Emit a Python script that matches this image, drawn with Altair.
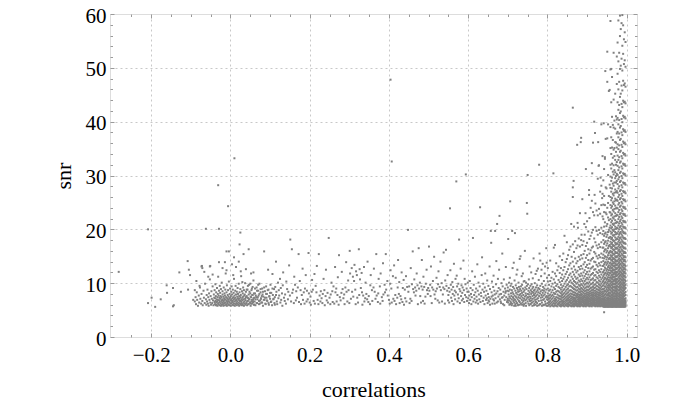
import altair as alt
import pandas as pd

# ---------------- data ----------------
# every point is (correlation x 1000, snr x 10)
far_left = [(-282,121),(-208,63),(-199,73),(-190,56),(-176,70),(-161,96),(-160,82),(-145,91),(-145,57),(-143,59),
            (-129,120),(-125,84),(-108,141),(-105,125),(-102,115),(-107,88),(-208,200),(-94,69),(-90,87),(-73,131),
            (-71,128),(-62,201),(-52,131),(-29,139),(-29,201),(-6,243),(-10,159),(-31,282),(10,332)]

near_zero = [(-90,66),(-88,74),(-87,61),(-85,83),(-84,69),(-82,58),(-80,77),(-79,64),(-77,92),(-76,71),(-74,62),(-73,80),
             (-71,67),(-70,59),(-68,86),(-67,73),(-65,63),(-64,99),(-62,70),(-61,60),(-60,78),(-59,66),(-58,88),(-57,62),
             (-56,74),(-55,58),(-54,81),(-53,69),(-52,107),(-51,64),(-50,76),(-49,60),(-48,85),(-47,71),(-46,63),(-45,94),
             (-44,68),(-43,59),(-42,79),(-41,73),(-40,65),(-40,87),(-39,61),(-39,72),(-38,67),(-38,98),(-37,59),(-37,76),
             (-36,64),(-36,83),(-35,70),(-35,60),(-34,91),(-34,66),(-33,74),(-33,58),(-32,80),(-32,69),(-31,63),(-31,112),
             (-30,77),(-30,61),(-29,86),(-29,68),(-28,73),(-28,59),(-27,95),(-27,65),(-26,71),(-26,82),(-25,62),(-25,76),
             (-24,58),(-24,89),(-23,67),(-23,74),(-22,60),(-22,101),(-21,70),(-21,64),(-20,79),(-20,85),(-19,61),(-19,68),
             (-18,75),(-18,58),(-17,92),(-17,66),(-16,72),(-16,63),(-15,81),(-15,69),(-14,59),(-14,77),(-13,88),(-13,64),
             (-12,70),(-12,118),(-11,61),(-11,74),(-10,67),(-10,83),(-9,58),(-9,96),(-8,72),(-8,65),(-7,78),(-7,62),(-6,69),
             (-6,87),(-5,60),(-5,75),(-4,66),(-4,103),(-3,71),(-3,59),(-2,80),(-2,64),(-1,73),(-1,90),(0,62),(0,68),(1,76),
             (1,58),(2,84),(2,70),(3,63),(3,94),(4,67),(4,79),(5,60),(5,72),(6,88),(6,65),(7,74),(7,59),(8,82),(8,69),(9,62),
             (9,108),(10,71),(10,77),(11,58),(11,66),(12,86),(12,73),(13,61),(13,95),(14,68),(14,79),(15,63),(15,70),(16,84),
             (16,59),(17,75),(17,66),(18,91),(18,62),(19,72),(19,80),(20,60),(20,69),(21,99),(21,64),(22,76),(22,58),(23,83),
             (23,71),(24,62),(24,67),(25,89),(25,74),(26,60),(26,78),(27,66),(27,113),(28,70),(28,63),(29,85),(29,59),(30,73),
             (30,68),(31,81),(31,61),(32,92),(32,75),(33,64),(33,70),(34,58),(34,87),(35,77),(35,66),(36,62),(36,79),(37,71),
             (37,100),(38,60),(38,68),(39,84),(39,74),(40,63),(41,76),(42,59),(43,88),(44,67),(45,72),(46,61),(47,97),(48,70),
             (49,64),(50,81),(51,58),(52,74),(53,66),(54,90),(55,62),(56,78),(57,69),(58,105),(59,60),(60,73),
             (25,194),(23,172),(-4,159),(33,154),(46,163),(-72,132),(-51,132),(14,130),(7,115),(21,140),(26,122),(4,135),
             (-10,124),(-56,112),(58,120),(-78,95),(-66,121),(-20,128),(39,126),(52,118),(-45,116),(-86,104),(30,102),
             (-14,139),(9,148)]

zero_right = [(41,88),(42,66),(43,73),(44,95),(45,61),(46,79),(47,70),(48,84),(49,64),(50,99),(51,75),(52,62),(53,87),
              (54,69),(55,78),(56,93),(57,65),(58,72),(59,81),(60,60),(62,90),(63,70),(64,77),(66,63),(67,86),(69,74),
              (70,97),(72,67),(73,80),(74,62),(76,89),(77,71),(79,76),(80,64),(82,84),(84,69),(85,92),(87,73),(89,61),
              (90,80),(92,68),(94,87),(96,63),(98,75),(100,82),(103,66),(106,90),(109,71),(112,60),(115,78)]

mid_band = [(61,66),(62,81),(63,59),(65,74),(66,92),(67,63),(68,70),(70,86),(71,77),(72,61),(73,99),(75,68),(76,83),(77,72),
            (78,64),(80,90),(81,79),(82,58),(83,75),(85,159),(86,69),(87,85),(88,62),(90,94),(91,73),(92,80),(93,67),(95,125),
            (96,88),(97,60),(98,76),(100,71),(101,97),(102,65),(103,82),(105,59),(106,117),(107,78),(108,70),(110,89),(111,63),
            (112,74),(113,93),(115,140),(116,84),(117,66),(118,61),(120,101),(121,72),(122,87),(123,77),(125,108),(126,64),
            (127,91),(128,69),(130,81),(131,58),(132,96),(133,120),(135,73),(137,67),(138,79),(140,62),(141,103),(143,89),
            (145,70),(146,84),(148,133),(150,77),(151,181),(153,66),(155,163),(156,82),(158,88),(160,63),(161,112),(163,97),
            (165,68),(166,85),(168,73),(170,92),(172,154),(173,65),(175,104),(177,87),(178,61),(180,78),(182,127),(183,69),
            (185,83),(187,62),(188,90),(190,115),(192,66),(193,86),(195,70),(197,156),(198,81),(200,64),(202,75),(203,60),
            (205,84),(206,106),(208,88),(210,67),(212,117),(213,62),(215,95),(217,83),(218,132),(220,69),(222,61),(223,154),
            (225,77),(227,66),(228,85),(230,72),(232,63),(233,80),(235,108),(237,87),(238,59),(240,76),(241,125),(243,68),
            (245,82),(246,64),(248,184),(250,73),(252,61),(253,79),(255,101),(257,85),(258,65),(260,94),(262,62),(264,130),
            (265,83),(267,90),(268,66),(270,78),(271,111),(273,60),(274,152),(276,74),(278,68),(280,82),(281,121),(283,89),
            (285,72),(287,79),(288,61),(290,92),(292,139),(293,84),(295,66),(297,105),(298,87),(300,63),(301,160),(302,118),
            (304,71),(306,128),(307,84),(309,112),(310,75),(312,104),(313,134),(315,88),(316,61),(317,122),(319,115),(320,73),
            (322,64),(324,163),(325,78),(326,126),(327,107),(329,91),(331,119),(332,83),(333,60),(335,77),(337,130),(338,66),
            (340,72),(341,101),(343,80),(345,70),(346,140),(348,65),(349,76),(352,61),(353,96),(354,115),(357,87),(358,67),
            (361,92),(362,127),(364,84),(366,71),(368,154),(369,77),(372,65),(373,81),(374,108),(377,94),(378,62),(379,118),
            (382,74),(384,67),(385,137),(386,79),(389,97),(390,83),(392,154),(393,88),(396,104),(397,77),(400,69),(402,62),
            (403,99),(404,124),(406,90),(407,64),(410,113),(411,71),(413,133),(414,67),(416,78),(417,110),(418,61),(421,73),
            (422,92),(423,143),(425,80),(426,102),(427,63),(429,76),(431,70),(432,120),(434,65),(435,91),(437,106),(438,60),
            (440,88),(441,72),(443,113),(444,66),(446,93),(448,199),(449,84),(451,94),(452,63),(454,71),(455,128),(457,67),
            (458,98),(460,159),(461,89),(463,83),(464,107),(466,92),(467,77),(469,86),(470,118),(472,96),(473,61),(475,165),
            (476,90),(478,101),(479,76),(481,64),(482,94),(483,143),(485,88),(486,67),(487,112),(489,93),(490,62),(492,75),
            (493,99),(495,125),(496,87),(498,80),(499,91),(501,168),(502,86),(504,97),(505,76),(506,131),(508,63),(509,92),
            (511,104),(512,88),(514,149),(515,79),(517,71),(518,85),(520,110),(521,90),(523,68),(524,98),(525,122),(527,64),
            (528,93),(530,140),(531,87),(533,100),(534,66),(536,79),(537,92),(538,157),(540,89),(541,62),(542,105),(544,162),
            (545,95),(547,86),(548,115),(549,68),(550,78),(551,91),(552,64),(553,84),(554,239),(555,124),(556,97),(557,73),
            (558,88),(559,67),(560,102),(561,80),(562,93),(563,61),(564,136),(565,77),(566,86),(567,70),(568,108),(569,83),
            (570,289),(571,114),(572,94),(573,66),(574,79),(575,99),(576,72),(577,181),(578,89),(579,63),(580,85),(581,127),
            (582,76),(583,96),(584,68),(585,82),(586,92),(587,71),(588,142),(589,87),(590,65),(591,108),(592,78),(593,98),
            (594,302),(595,74),(596,90),(597,67),(598,84),(599,101)]

rising = [(600,72),(601,84),(602,63),(603,77),(604,104),(605,69),(606,91),(607,80),(608,61),(609,74),(610,122),(611,87),
          (612,184),(613,66),(614,97),(615,78),(616,71),(617,112),(618,83),(619,64),(620,90),(621,75),(622,68),(623,135),
          (624,86),(625,62),(626,101),(627,79),(628,70),(629,94),(630,241),(631,65),(632,82),(633,76),(634,115),(635,148),
          (636,88),(637,67),(638,99),(639,73),(640,84),(641,61),(642,92),(643,118),(644,77),(645,69),(646,86),(647,72),
          (648,105),(649,63),(650,80),(651,95),(652,74),(653,66),(654,131),(655,89),(656,71),(657,197),(658,175),(659,83),
          (660,103),(661,62),(662,77),(663,93),(664,114),(665,68),(666,86),(667,79),(668,197),(669,72),(670,98),(671,141),
          (672,64),(673,210),(674,85),(675,108),(676,75),(677,91),(678,125),(679,225),(680,70),(681,88),(682,66),(683,80),
          (684,100),(685,73),(686,155),(687,94),(688,61),(689,84),(690,107),(691,77),(692,69),(693,90),(694,82),(695,130),
          (696,74),(697,97),(698,65),(699,86),(651,68),(655,60),(659,75),(663,70),(667,62),(671,81),(675,66),(679,79),
          (683,63),(687,74),(691,59),(695,85),(699,68),
          (700,71),(700,92),(701,182),(701,64),(702,79),(702,85),(703,68),(703,101),(704,75),(704,60),(705,88),(705,110),
          (706,252),(706,72),(707,66),(707,95),(708,81),(708,63),(709,99),(709,76),(710,70),(710,87),(711,197),(711,62),
          (712,128),(712,83),(713,74),(713,93),(714,67),(714,80),(715,138),(715,71),(716,90),(716,64),(717,77),(717,105),
          (718,193),(718,69),(719,86),(719,61),(720,96),(720,75),(721,82),(721,66),(722,116),(722,73),(723,91),(723,63),
          (724,125),(724,79),(725,70),(725,88),(726,84),(726,60),(727,101),(727,74),(728,67),(728,93),(729,78),(729,85),
          (730,145),(730,65),(731,89),(731,72),(732,150),(732,80),(733,94),(733,62),(734,76),(734,86),(735,113),(735,69),
          (736,82),(736,97),(737,73),(737,64),(738,118),(738,90),(739,78),(739,67),(740,84),(740,103),(741,71),(741,61),
          (742,104),(742,87),(743,160),(743,75),(744,92),(744,68),(745,81),(745,63),(746,101),(746,77),(747,89),(747,70),
          (748,249),(748,95),(749,229),(749,73),(750,301),(750,80),(750,66),(751,98),(751,74),(752,86),(752,62),(753,107),
          (753,79),(754,70),(754,91),(755,131),(755,83),(756,67),(756,75),(757,95),(757,61),(758,87),(758,72),(759,120),
          (759,80),(760,68),(760,98),(761,84),(761,64),(762,76),(762,90),(763,109),(763,71),(764,82),(764,93),(765,146),
          (765,66),(766,78),(766,86),(767,73),(767,62),(768,100),(768,88),(769,69),(769,81),(770,117),(770,75),(771,92),
          (771,65),(772,84),(772,77),(773,123),(773,70),(774,96),(774,63),(775,87),(775,79),(776,127),(776,72),(777,83),
          (777,91),(778,106),(778,67),(779,320),(779,76),(780,155),(780,89),(781,61),(781,81),(782,142),(782,95),(783,73),
          (783,85),(784,113),(784,68),(785,125),(785,78),(786,99),(786,64),(787,87),(787,74),(788,136),(788,82),(789,69),
          (789,93),(790,77),(790,60),(791,104),(791,86),(792,71),(792,90),(793,118),(793,79),(794,131),(794,66),(795,96),
          (795,83),(796,74),(796,62),(797,165),(797,88),(798,138),(798,76),(799,110),(799,70),
          (754,59),(762,58),(770,60),(778,59),(786,58),(794,60),(758,62),(766,59),(774,58),(782,61),(790,59),(798,58),
          (710,59),(720,58),(730,60),(740,58),(706,61),(716,58),(726,59),(736,60),(746,58)]

outliers = [(959,587),(951,530),(946,494),(961,498),(864,426),(918,400),(936,395),(942,397),(920,379),(875,357),
            (928,362),(945,334),(912,323),(864,278),(864,260),(905,273),(930,319),(404,478),(407,326),(815,304),
            (866,290),(884,362),(885,370),(897,312),(913,304),(915,361),(905,264),(919,264),(886,190),(877,203),
            (860,210),(893,210),(896,230),(938,258),(934,296),(929,318)]

# dense shoulder between 0.80 and 0.94: correlation x 1000 and the snr x 10 values found at it
shoulder_corr = [801, 804, 807, 810, 813, 816, 819, 822, 825, 828, 831, 834, 837, 840, 843, 846, 849, 852, 855, 858,
                 861, 864, 867, 870, 873, 876, 879, 882, 885, 888, 891, 894, 897, 900, 903, 906, 909, 912, 915, 918,
                 921, 924, 927, 930, 933, 936, 939]
shoulder_snr = [
    [58,63,69,74,81,90,103,128], [60,65,71,77,86,97,115], [57,62,67,73,79,88,104,142], [59,64,70,76,83,94,110],
    [58,61,66,72,78,87,99,121], [57,63,68,75,82,92,107,166], [59,62,67,71,80,89,101,118,171],
    [58,64,69,74,84,95,113,137], [57,61,66,73,79,86,98,124], [60,63,68,72,77,85,93,106,131],
    [58,62,65,71,76,83,91,102,119,150], [57,60,66,70,75,81,88,97,110,128], [59,63,67,73,78,84,92,104,116,143],
    [58,61,65,69,74,80,87,95,108,124,155], [57,62,66,71,76,82,89,99,112,130,188], [59,60,64,68,73,79,85,93,103,117,139],
    [58,62,67,70,75,81,88,96,106,121,145,176], [57,61,63,68,72,77,83,90,98,110,126,152],
    [59,60,65,69,74,79,86,94,102,115,133,162], [58,62,64,67,71,76,81,87,95,105,118,137,168],
    [57,59,63,68,72,75,80,86,93,101,112,127,149], [58,61,65,66,70,74,79,84,91,99,108,121,140,172],
    [57,60,62,67,71,73,78,83,89,96,104,116,131,158,205], [59,61,64,66,69,72,77,82,88,94,102,112,125,146,178],
    [58,60,63,65,68,73,76,80,86,92,99,108,120,137,165], [57,59,62,66,70,74,78,81,87,93,101,110,123,141,170,212],
    [58,61,64,67,69,72,75,79,84,90,97,105,116,130,149,183], [57,60,62,65,68,71,74,78,83,88,95,103,113,126,144,168,230],
    [59,61,63,66,70,73,77,80,85,91,98,107,118,132,152,180], [58,60,64,67,69,72,75,79,84,89,96,104,114,127,146,171,256],
    [57,59,62,65,68,71,74,77,82,87,93,100,109,120,135,154,178], [58,61,63,66,69,73,76,80,85,90,97,104,113,124,139,160,190],
    [57,60,62,64,67,70,73,77,81,86,92,99,107,117,130,147,169,204],
    [59,61,64,67,70,72,75,79,83,88,94,101,110,121,134,152,175,215],
    [58,60,63,65,68,71,74,78,82,87,93,99,107,116,128,143,163,196],
    [57,59,62,66,69,72,76,80,84,89,95,102,111,122,136,155,182,221],
    [58,61,63,65,67,70,73,77,81,85,91,98,106,115,127,142,161,188,240],
    [57,60,62,64,68,71,74,78,82,87,92,99,107,117,129,145,166,194,253],
    [59,61,63,66,69,72,76,79,83,88,94,101,109,119,131,147,168,199,232],
    [58,60,62,65,67,70,73,77,81,86,91,97,105,114,125,140,158,183,226],
    [57,59,61,64,68,71,75,78,82,86,92,98,106,115,126,139,155,176,204,248],
    [58,60,63,65,67,70,73,76,80,84,89,95,102,111,121,134,150,170,197,235],
    [57,59,62,64,66,69,72,75,79,83,88,94,101,109,119,131,146,165,190,226,294],
    [58,61,63,66,68,71,74,78,82,87,92,98,105,114,124,137,152,172,199,238],
    [57,59,62,64,67,70,73,77,81,85,90,96,103,111,121,133,148,167,193,229,270],
    [58,60,63,65,68,71,75,79,83,88,93,99,107,116,126,139,155,176,203,245,281],
    [57,59,61,64,66,69,72,76,80,84,89,95,102,110,120,132,147,166,191,224,266,336],
]

# dense column next to correlation 1
core_corr = [941, 943, 945, 947, 949, 951, 953, 955, 957, 959, 961, 963, 965, 967, 969, 971, 973, 975, 977, 979,
             981, 983, 985, 987, 989, 991, 993, 995, 997]
core_snr = [
    [57,59,63,66,70,75,81,88,96,104,113,121,132,141,153,166,180,197,219,246,291],
    [46,56,60,62,67,72,77,84,90,99,107,116,124,135,146,159,173,188,205,232,262,312],
    [57,58,61,65,69,73,79,86,94,101,110,118,129,138,150,162,176,192,213,245,331],
    [56,59,62,64,68,74,80,85,93,102,109,119,127,139,149,163,178,194,231,278,368],
    [57,58,60,64,67,71,77,83,89,97,106,114,123,134,144,157,170,186,206,228,276],
    [56,58,61,63,68,72,78,85,92,100,108,117,126,137,148,160,174,190,210,240,369,474],
    [57,59,62,65,69,74,80,87,95,103,111,120,130,140,152,165,179,195,222,249,301,395],
    [56,58,60,64,67,72,78,83,91,98,106,115,124,133,145,156,169,184,199,217,262,457],
    [57,59,61,63,68,71,76,82,88,95,103,110,119,128,137,147,158,171,185,203,232,283,459],
    [56,58,61,64,67,71,75,81,87,93,99,105,111,118,124,131,138,145,152,160,168,177,186,196,207,219,231,245,260,277,298,320,351,390,497],
    [57,59,62,65,69,73,78,84,90,96,102,108,114,121,128,134,142,149,157,165,173,182,192,202,213,226,240,254,270,290,313,340,371,436],
    [56,57,60,63,66,70,74,79,85,91,97,103,110,116,123,129,136,143,151,158,167,175,184,194,204,216,228,243,258,276,296,322,352,409,483],
    [57,58,61,64,68,72,77,82,88,94,100,107,113,120,126,133,140,147,155,163,171,180,189,199,210,222,236,250,266,285,307,333,366,394],
    [56,59,60,63,67,70,75,80,86,92,98,104,111,117,124,131,137,145,153,161,169,178,188,197,208,220,233,247,263,281,302,319,348,389,441,528],
    [57,58,62,65,68,72,76,82,87,93,99,106,112,119,125,132,139,146,154,162,170,179,190,200,211,224,238,252,268,287,310,336,351,402],
    [56,58,60,63,66,71,75,80,85,91,97,103,109,116,122,129,136,143,150,158,166,175,185,195,205,217,230,244,257,274,295,306,329,362,387,452],
    [57,59,61,64,68,71,76,81,87,93,100,106,113,119,126,133,140,148,156,164,172,181,191,201,212,225,239,254,269,287,299,320,344,361,410],
    [56,57,60,63,66,70,74,79,84,90,96,102,108,115,121,128,135,142,150,157,166,174,183,193,203,214,227,240,255,271,290,303,325,352,378,404,470,521],
    [57,58,61,64,67,72,77,82,88,94,101,107,114,120,127,134,141,149,156,164,173,182,192,202,213,226,239,253,268,284,301,318,337,358,381,407,436,489,547],
    [56,59,61,63,68,71,75,80,86,92,98,104,110,117,123,130,137,144,152,160,168,177,186,196,207,219,232,246,260,276,293,310,329,349,371,395,422,460,512,588],
    [57,58,60,64,67,70,76,81,87,93,99,105,112,118,125,132,139,146,154,162,171,180,190,200,211,223,236,249,264,280,297,315,334,356,378,403,431,474,528],
    [56,58,62,65,69,73,78,83,89,95,101,108,114,121,128,135,142,150,158,166,175,184,193,204,215,228,242,256,271,288,305,324,344,366,389,416,446,498,559,597],
    [57,59,60,63,66,70,74,79,85,91,97,103,109,116,122,129,136,143,151,159,167,176,185,195,206,218,230,244,258,273,290,307,326,346,368,392,419,452,504,572],
    [56,57,61,64,68,72,77,82,88,94,100,106,113,119,126,133,140,147,155,163,172,181,191,201,212,224,237,251,266,282,299,317,336,357,380,405,433,467,517,583],
    [57,58,62,65,67,71,75,80,86,92,98,105,111,117,124,131,138,145,153,161,169,178,188,198,209,221,234,248,262,278,295,313,332,353,375,399,427,458,495,541,598],
    [56,59,60,63,69,73,78,84,90,96,102,108,115,122,129,136,144,151,159,167,176,185,195,205,216,229,242,256,271,287,304,322,342,363,386,411,439,476,526,579],
    [57,58,61,64,66,70,76,81,87,93,99,106,112,119,126,133,141,148,156,165,174,183,193,203,214,227,240,254,269,285,302,320,339,360,383,408,436,468,507,553],
    [56,58,60,63,67,71,77,82,89,95,101,107,114,121,128,135,143,150,158,166,175,184,194,204,215,228,241,255,270,286,303,321,340,361,384,409,437,471,514,566],
    [57,59,62,65,68,72,78,84,91,97,104,111,118,125,132,140,148,156,164,173,182,192,202,213,225,238,252,267,283,300,318,337,358,381,406,434,465,502,548],
]

x_major = [-0.2, 0.0, 0.2, 0.4, 0.6, 0.8, 1.0]
x_minor = [-0.25, -0.15, -0.1, -0.05, 0.05, 0.1, 0.15, 0.25, 0.3, 0.35, 0.45, 0.5, 0.55,
           0.65, 0.7, 0.75, 0.85, 0.9, 0.95]
y_major = [0, 10, 20, 30, 40, 50, 60]
y_grid = [10, 20, 30, 40, 50]
y_minor = [2, 4, 6, 8, 12, 14, 16, 18, 22, 24, 26, 28, 32, 34, 36, 38, 42, 44, 46, 48, 52, 54, 56, 58]

# ---------------- build table ----------------
rows = []
for group in (far_left, near_zero, zero_right, mid_band, rising, outliers):
    for c, s in group:
        rows.append({"correlations": c / 1000, "snr": s / 10})
for corr_list, snr_lists in ((shoulder_corr, shoulder_snr), (core_corr, core_snr)):
    for c, col in zip(corr_list, snr_lists):
        for s in col:
            rows.append({"correlations": c / 1000, "snr": s / 10})
df = pd.DataFrame(rows)

W, H = 527, 323
FRAME = "#9a9a9a"
FONT = "Liberation Serif, Times New Roman, Times, serif"
xs = alt.Scale(domain=[-0.304, 1.026], nice=False, zero=False)
ys = alt.Scale(domain=[0, 60], nice=False, zero=False)

base = alt.Chart(df)
empty = base.transform_filter("datum.snr > 1000")


def tick_axis(values, orient, offset, size):
    return alt.Axis(values=values, orient=orient, offset=offset, tickSize=size, tickColor=FRAME,
                    tickWidth=1, labels=False, domain=False, grid=False, title="")


points = base.mark_square(size=4, color="#808080", opacity=1).encode(
    x=alt.X("correlations:Q", scale=xs,
            axis=alt.Axis(values=x_major, grid=True, gridColor="#c8c8c8", gridDash=[2, 3], gridWidth=1,
                          labels=False, ticks=False, domain=False, title="")),
    y=alt.Y("snr:Q", scale=ys,
            axis=alt.Axis(values=y_grid, grid=True, gridColor="#c8c8c8", gridDash=[2, 3], gridWidth=1,
                          labels=False, ticks=False, domain=False, title="")),
)

labels = empty.mark_point().encode(
    x=alt.X("correlations:Q", scale=xs,
            axis=alt.Axis(values=x_major, format=".1f", orient="bottom", ticks=False, domain=False, grid=False,
                          labelFont=FONT, labelFontSize=21, labelColor="black", labelPadding=7,
                          labelFlush=False, labelOverlap=False,
                          title="correlations", titleFont=FONT, titleFontSize=22, titleFontWeight="normal",
                          titleColor="black", titleY=59, titleBaseline="alphabetic")),
    y=alt.Y("snr:Q", scale=ys,
            axis=alt.Axis(values=y_major, format="d", orient="left", ticks=False, domain=False, grid=False,
                          labelFont=FONT, labelFontSize=21, labelColor="black", labelPadding=4, labelOffset=2,
                          labelFlush=False, labelOverlap=False,
                          title="snr", titleFont=FONT, titleFontSize=22, titleFontWeight="normal",
                          titleColor="black", titleX=-40, titleY=H / 2, titleAngle=270,
                          titleBaseline="alphabetic", titleAlign="center")),
)

ticks_bl_major = empty.mark_point().encode(
    x=alt.X("correlations:Q", scale=xs, axis=tick_axis(x_major, "top", -H, 4)),
    y=alt.Y("snr:Q", scale=ys, axis=tick_axis(y_major, "right", -W, 4)),
)
ticks_tr_major = empty.mark_point().encode(
    x=alt.X("correlations:Q", scale=xs, axis=tick_axis(x_major, "bottom", -H, 4)),
    y=alt.Y("snr:Q", scale=ys, axis=tick_axis(y_major, "left", -W, 4)),
)
ticks_bl_minor = empty.mark_point().encode(
    x=alt.X("correlations:Q", scale=xs, axis=tick_axis(x_minor, "top", -H, 2.5)),
    y=alt.Y("snr:Q", scale=ys, axis=tick_axis(y_minor, "right", -W, 2.5)),
)
ticks_tr_minor = empty.mark_point().encode(
    x=alt.X("correlations:Q", scale=xs, axis=tick_axis(x_minor, "bottom", -H, 2.5)),
    y=alt.Y("snr:Q", scale=ys, axis=tick_axis(y_minor, "left", -W, 2.5)),
)

chart = (
    alt.layer(points, labels, ticks_bl_major, ticks_tr_major, ticks_bl_minor, ticks_tr_minor)
    .resolve_axis(x="independent", y="independent")
    .properties(width=W, height=H, autosize=alt.AutoSizeParams(type="none"),
                padding={"left": 102, "top": 6, "right": 45, "bottom": 65})
    .configure_view(stroke=FRAME, strokeWidth=1)
    .configure(background="white")
)

chart.save("out.html", embed_options={"renderer": "svg", "actions": False})
